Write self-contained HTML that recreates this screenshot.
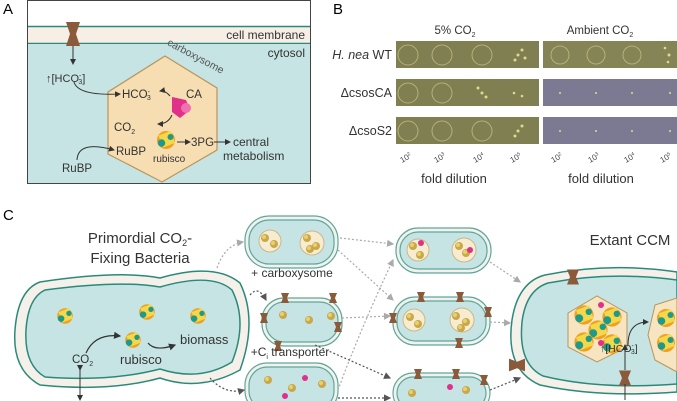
<!DOCTYPE html>
<html><head><meta charset="utf-8"><style>
html,body{margin:0;padding:0;background:#fff;}
svg{display:block;font-family:"Liberation Sans",sans-serif;}
</style></head><body>
<svg width="677" height="401" viewBox="0 0 677 401" xmlns="http://www.w3.org/2000/svg">
<defs>
<marker id="ah" markerWidth="6" markerHeight="6" refX="5" refY="3" orient="auto"><path d="M0,0 L6,3 L0,6z" fill="#333"/></marker>
<marker id="ag" markerWidth="6" markerHeight="6" refX="5" refY="3" orient="auto"><path d="M0,0 L6,3 L0,6z" fill="#aaa"/></marker>
<marker id="ad" markerWidth="6" markerHeight="6" refX="5" refY="3" orient="auto"><path d="M0,0 L6,3 L0,6z" fill="#555"/></marker>
<g id="rb"><circle r="6" fill="#f0a020"/><path d="M-5,-3 L3,-6 L6,2 L-2,5z" fill="#f5d84a"/><circle cx="-3" cy="2" r="2.5" fill="#1f9a8a"/><circle cx="3" cy="-2" r="2" fill="#1f9a8a"/></g>
<g id="rs"><circle r="4" fill="#c9a84a"/><circle cx="-1" cy="-1" r="2" fill="#e8d070"/></g>
<g id="tp"><path d="M-4,-5 L4,-5 L2,0 L4,5 L-4,5 L-2,0z" fill="#8a5a3a"/></g>
</defs>

<!-- Panel A -->
<text x="3" y="14" font-size="15">A</text>
<rect x="27.5" y="0.5" width="283" height="183" fill="#fff" stroke="#444"/>
<rect x="28" y="27" width="282" height="16" fill="#f7efe6"/>
<line x1="28" y1="26.5" x2="310" y2="26.5" stroke="#2a8a7a" stroke-width="1.5"/>
<line x1="28" y1="43.5" x2="310" y2="43.5" stroke="#2a8a7a" stroke-width="1.5"/>
<rect x="28" y="44" width="282" height="139" fill="#c6e4e4"/>
<rect x="27.5" y="0.5" width="283" height="183" fill="none" stroke="#444"/>
<text x="305" y="39" font-size="12" text-anchor="end" fill="#333">cell membrane</text>
<text x="305" y="57" font-size="12" text-anchor="end" fill="#333">cytosol</text>
<path d="M66,22 L80,22 L76,34 L80,46 L66,46 L70,34z" fill="#8a5a3a"/>
<line x1="73" y1="46" x2="73" y2="64" stroke="#333" marker-end="url(#ah)"/>
<text x="46" y="82" font-size="11" fill="#333">↑[HCO<tspan font-size="7" dy="-4">-</tspan><tspan font-size="7" dy="6" dx="-3">3</tspan><tspan dy="-2">]</tspan></text>
<polygon points="165,56 217,88 217,150 162,182 108,154 108,92" fill="#f7ddb2" stroke="#b8955c" stroke-width="1.2"/>
<text x="160" y="53" font-size="10.5" fill="#555" transform="rotate(28 180 62)">carboxysome</text>
<path d="M74,82 Q78,96 120,94" fill="none" stroke="#333" marker-end="url(#ah)"/>
<text x="122" y="98" font-size="11.5" fill="#333">HCO<tspan font-size="7" dy="-4">-</tspan><tspan font-size="7" dy="6" dx="-3">3</tspan></text>
<text x="186" y="98" font-size="11.5" fill="#333">CA</text>
<path d="M172,97 L186,100 L190,110 L180,118 L172,112z" fill="#e0308a"/>
<circle cx="186" cy="108" r="5" fill="#f070b0"/>
<path d="M170,96 Q165,90 160,91" fill="none" stroke="#333" marker-end="url(#ah)"/>
<path d="M172,115 Q168,124 158,124" fill="none" stroke="#333" marker-end="url(#ah)"/>
<text x="114" y="131" font-size="11.5" fill="#333">CO<tspan font-size="7" dy="3">2</tspan></text>
<use href="#rb" transform="translate(166 140) scale(1.5)"/>
<line x1="177" y1="142" x2="190" y2="142" stroke="#333" marker-end="url(#ah)"/>
<text x="191" y="146" font-size="11.5" fill="#333">3PG</text>
<line x1="214" y1="142" x2="230" y2="142" stroke="#333" marker-end="url(#ah)"/>
<text x="233" y="146" font-size="12" fill="#333">central</text>
<text x="223" y="160" font-size="12" fill="#333">metabolism</text>
<text x="116" y="155" font-size="11.5" fill="#333">RuBP</text>
<text x="153" y="162" font-size="10" fill="#333">rubisco</text>
<path d="M77,160 Q78,140 114,150" fill="none" stroke="#333" marker-end="url(#ah)"/>
<text x="62" y="172" font-size="11.5" fill="#333">RuBP</text>

<!-- Panel B -->
<text x="333" y="14" font-size="15">B</text>
<text x="455" y="34" font-size="11.5" text-anchor="middle" fill="#333">5% CO<tspan font-size="7" dy="3">2</tspan></text>
<text x="600" y="34" font-size="11.5" text-anchor="middle" fill="#333">Ambient CO<tspan font-size="7" dy="3">2</tspan></text>
<rect x="396" y="41" width="143" height="27" fill="#7f7f52"/>
<rect x="396" y="79" width="143" height="27" fill="#7f7f52"/>
<rect x="396" y="117" width="143" height="27" fill="#7f7f52"/>
<rect x="543" y="41" width="134" height="27" fill="#858457"/>
<rect x="543" y="79" width="134" height="27" fill="#7c7a92"/>
<rect x="543" y="117" width="134" height="27" fill="#7c7a92"/>
<g fill="none" stroke="#b8b078" stroke-width="1">
<circle cx="408" cy="55" r="10"/><circle cx="442" cy="55" r="10"/><circle cx="482" cy="55" r="10"/>
<circle cx="408" cy="93" r="10"/><circle cx="442" cy="93" r="10"/>
<circle cx="408" cy="131" r="10"/><circle cx="442" cy="131" r="10"/><circle cx="482" cy="131" r="10"/>
<circle cx="560" cy="55" r="9"/><circle cx="596" cy="55" r="9"/><circle cx="632" cy="55" r="9"/>
</g>
<g fill="#e0d890">
<circle cx="518" cy="55" r="1.5"/><circle cx="522" cy="50" r="1.5"/><circle cx="515" cy="60" r="1.5"/><circle cx="525" cy="58" r="1.5"/>
<circle cx="482" cy="93" r="1.5"/><circle cx="478" cy="88" r="1.5"/><circle cx="486" cy="97" r="1.5"/>
<circle cx="514" cy="93" r="1.3"/><circle cx="522" cy="96" r="1.3"/>
<circle cx="518" cy="131" r="1.5"/><circle cx="522" cy="126" r="1.5"/><circle cx="515" cy="136" r="1.5"/>
<circle cx="669" cy="55" r="1.5"/><circle cx="665" cy="48" r="1.3"/><circle cx="668" cy="62" r="1.3"/>
<circle cx="560" cy="93" r="1"/><circle cx="596" cy="93" r="1"/><circle cx="632" cy="93" r="1"/><circle cx="670" cy="93" r="1"/>
<circle cx="560" cy="131" r="1"/><circle cx="596" cy="131" r="1"/><circle cx="632" cy="131" r="1"/><circle cx="670" cy="131" r="1"/>
</g>
<text x="392" y="59" font-size="12.5" text-anchor="end" fill="#333"><tspan font-style="italic">H. nea</tspan> WT</text>
<text x="392" y="97" font-size="12.5" text-anchor="end" fill="#333">ΔcsosCA</text>
<text x="392" y="135" font-size="12.5" text-anchor="end" fill="#333">ΔcsoS2</text>
<g font-size="8" fill="#444">
<text x="402" y="163" transform="rotate(-30 402 163)">10<tspan font-size="5" dy="-3">2</tspan></text>
<text x="436" y="163" transform="rotate(-30 436 163)">10<tspan font-size="5" dy="-3">3</tspan></text>
<text x="475" y="163" transform="rotate(-30 475 163)">10<tspan font-size="5" dy="-3">4</tspan></text>
<text x="512" y="163" transform="rotate(-30 512 163)">10<tspan font-size="5" dy="-3">5</tspan></text>
<text x="553" y="163" transform="rotate(-30 553 163)">10<tspan font-size="5" dy="-3">2</tspan></text>
<text x="590" y="163" transform="rotate(-30 590 163)">10<tspan font-size="5" dy="-3">3</tspan></text>
<text x="626" y="163" transform="rotate(-30 626 163)">10<tspan font-size="5" dy="-3">4</tspan></text>
<text x="662" y="163" transform="rotate(-30 662 163)">10<tspan font-size="5" dy="-3">5</tspan></text>
</g>
<text x="454" y="183" font-size="13" text-anchor="middle" fill="#333">fold dilution</text>
<text x="601" y="183" font-size="13" text-anchor="middle" fill="#333">fold dilution</text>

<!-- Panel C -->
<text x="3" y="220" font-size="15">C</text>
<text x="140" y="243" font-size="15" text-anchor="middle" fill="#333">Primordial CO<tspan font-size="9" dy="3">2</tspan><tspan dy="-3">-</tspan></text>
<text x="140" y="263" font-size="15" text-anchor="middle" fill="#333">Fixing Bacteria</text>
<text x="630" y="245" font-size="15" text-anchor="middle" fill="#333">Extant CCM</text>

<path d="M40,282 Q120,270 160,278 Q215,262 240,283 Q258,320 240,370 Q200,392 160,378 Q110,392 40,385 Q12,370 15,330 Q18,290 40,282z" fill="#f5f1ea" stroke="#2a8a7a" stroke-width="1.5"/>
<path d="M45,290 Q120,280 160,287 Q212,272 232,290 Q248,322 232,362 Q200,382 160,369 Q110,382 45,377 Q24,365 26,330 Q28,298 45,290z" fill="#c6e4e4" stroke="#2a8a7a" stroke-width="1.5"/>
<use href="#rb" transform="translate(65 316) scale(1.3)"/>
<use href="#rb" transform="translate(147 312) scale(1.3)"/>
<use href="#rb" transform="translate(198 316) scale(1.3)"/>
<use href="#rb" transform="translate(133 340) scale(1.3)"/>
<path d="M86,353 Q95,333 120,336" fill="none" stroke="#333" stroke-width="1.2" marker-end="url(#ah)"/>
<path d="M148,343 Q155,352 175,345" fill="none" stroke="#333" stroke-width="1.2" marker-end="url(#ah)"/>
<text x="180" y="344" font-size="13" fill="#333">biomass</text>
<text x="72" y="363" font-size="11.5" fill="#333">CO<tspan font-size="7" dy="3">2</tspan></text>
<text x="120" y="364" font-size="13" fill="#333">rubisco</text>
<line x1="80" y1="370" x2="80" y2="400" stroke="#333" marker-start="url(#ah)" marker-end="url(#ah)"/>

<g stroke="#5aa8a0" stroke-width="1.2">
<rect x="245" y="216" width="93" height="52" rx="24" fill="#f5f1ea"/>
<rect x="249" y="220" width="85" height="44" rx="20" fill="#c6e4e4"/>
<rect x="262" y="298" width="80" height="48" rx="22" fill="#f5f1ea"/>
<rect x="266" y="302" width="72" height="40" rx="18" fill="#c6e4e4"/>
<rect x="245" y="363" width="93" height="50" rx="22" fill="#f5f1ea"/>
<rect x="249" y="367" width="85" height="42" rx="18" fill="#c6e4e4"/>
<rect x="396" y="228" width="95" height="45" rx="22" fill="#f5f1ea"/>
<rect x="400" y="232" width="87" height="37" rx="18" fill="#c6e4e4"/>
<rect x="393" y="297" width="97" height="48" rx="22" fill="#f5f1ea"/>
<rect x="397" y="301" width="89" height="40" rx="18" fill="#c6e4e4"/>
<rect x="393" y="373" width="97" height="40" rx="20" fill="#f5f1ea"/>
<rect x="397" y="377" width="89" height="32" rx="16" fill="#c6e4e4"/>
</g>
<g fill="#f7ecd0" stroke="#c9b88a">
<circle cx="270" cy="241" r="11"/><circle cx="312" cy="243" r="12"/>
<circle cx="418" cy="250" r="11"/><circle cx="464" cy="250" r="12"/>
<circle cx="414" cy="320" r="11"/><circle cx="462" cy="320" r="12"/>
</g>
<use href="#rs" x="265" y="238"/><use href="#rs" x="274" y="244"/><use href="#rs" x="307" y="238"/><use href="#rs" x="316" y="246"/><use href="#rs" x="310" y="249"/>
<use href="#rs" x="413" y="246"/><use href="#rs" x="420" y="255"/><use href="#rs" x="459" y="246"/><use href="#rs" x="466" y="253"/>
<use href="#rs" x="410" y="317"/><use href="#rs" x="418" y="324"/><use href="#rs" x="456" y="316"/><use href="#rs" x="466" y="322"/><use href="#rs" x="461" y="328"/>
<use href="#rs" x="283" y="315"/><use href="#rs" x="309" y="320"/><use href="#rs" x="331" y="316"/>
<use href="#rs" x="268" y="380"/><use href="#rs" x="292" y="388"/><use href="#rs" x="322" y="384"/>
<use href="#rs" x="412" y="393"/><use href="#rs" x="466" y="390"/>
<g fill="#e0308a"><circle cx="421" cy="243" r="3"/><circle cx="470" cy="250" r="3"/><circle cx="305" cy="378" r="3"/><circle cx="285" cy="396" r="3"/><circle cx="450" cy="387" r="3"/></g>
<use href="#tp" x="285" y="298"/><use href="#tp" x="333" y="298"/><use href="#tp" x="264" y="318"/><use href="#tp" x="278" y="346"/><use href="#tp" x="338" y="327"/>
<use href="#tp" x="421" y="297"/><use href="#tp" x="460" y="297"/><use href="#tp" x="393" y="318"/><use href="#tp" x="488" y="312"/><use href="#tp" x="459" y="343"/>
<use href="#tp" x="418" y="374"/><use href="#tp" x="456" y="374"/><use href="#tp" x="484" y="380"/>
<text x="292" y="277" font-size="12" text-anchor="middle" fill="#333">+ carboxysome</text>
<text x="290" y="356" font-size="12" text-anchor="middle" fill="#333">+C<tspan font-size="7" dy="3">i</tspan><tspan dy="-3"> transporter</tspan></text>

<g fill="none" stroke-dasharray="2,2" stroke-width="1.2">
<path d="M217,268 Q225,245 243,242" stroke="#aaa" marker-end="url(#ag)"/>
<path d="M250,295 Q258,285 266,300" stroke="#555" marker-end="url(#ad)"/>
<path d="M210,378 Q225,395 244,390" stroke="#555" marker-end="url(#ad)"/>
<path d="M340,238 L393,244" stroke="#aaa" marker-end="url(#ag)"/>
<path d="M338,250 L393,300" stroke="#aaa" marker-end="url(#ag)"/>
<path d="M342,318 L390,316" stroke="#aaa" marker-end="url(#ag)"/>
<path d="M338,390 Q360,330 393,260" stroke="#aaa" marker-end="url(#ag)"/>
<path d="M338,398 L390,398" stroke="#555" marker-end="url(#ad)"/>
<path d="M315,345 L390,378" stroke="#555" marker-end="url(#ad)"/>
<path d="M490,262 L520,282" stroke="#aaa" marker-end="url(#ag)"/>
<path d="M490,322 L510,323" stroke="#aaa" marker-end="url(#ag)"/>
<path d="M490,390 L520,378" stroke="#555" marker-end="url(#ad)"/>
</g>

<path d="M545,275 Q610,262 677,272 L677,392 Q600,398 540,385 Q505,370 512,320 Q518,282 545,275z" fill="#f5f1ea" stroke="#2a8a7a" stroke-width="1.5"/>
<path d="M548,283 Q610,271 677,280 L677,384 Q600,390 543,376 Q518,364 522,322 Q526,290 548,283z" fill="#c6e4e4" stroke="#2a8a7a" stroke-width="1.5"/>
<polygon points="568,313 597,296 627,313 627,347 597,362 568,347" fill="#f7e4c0" stroke="#b8955c"/>
<polygon points="655,305 677,298 677,372 655,360 648,335" fill="#f7e4c0" stroke="#b8955c"/>
<use href="#rb" transform="translate(584 315) scale(1.6)"/>
<use href="#rb" transform="translate(612 317) scale(1.6)"/>
<use href="#rb" transform="translate(598 330) scale(1.6)"/>
<use href="#rb" transform="translate(584 342) scale(1.6)"/>
<use href="#rb" transform="translate(612 344) scale(1.6)"/>
<use href="#rb" transform="translate(666 318) scale(1.5)"/>
<use href="#rb" transform="translate(666 343) scale(1.5)"/>
<circle cx="601" cy="305" r="3" fill="#e0308a"/><circle cx="601" cy="343" r="3" fill="#e0308a"/>
<use href="#tp" transform="translate(573 277) scale(1.5)"/>
<use href="#tp" transform="translate(517 365) scale(1.6) rotate(90)"/>
<use href="#tp" transform="translate(625 378) scale(1.5)"/>
<line x1="625" y1="370" x2="625" y2="345" stroke="#333" marker-end="url(#ah)"/>
<path d="M628,345 Q628,322 648,322" fill="none" stroke="#333" marker-end="url(#ah)"/>
<text x="600" y="352" font-size="10.5" fill="#333">↑[HCO<tspan font-size="7" dy="-4">-</tspan><tspan font-size="7" dy="6" dx="-3">3</tspan><tspan dy="-2">]</tspan></text>
<line x1="625" y1="384" x2="625" y2="400" stroke="#333"/>
</svg>
</body></html>
